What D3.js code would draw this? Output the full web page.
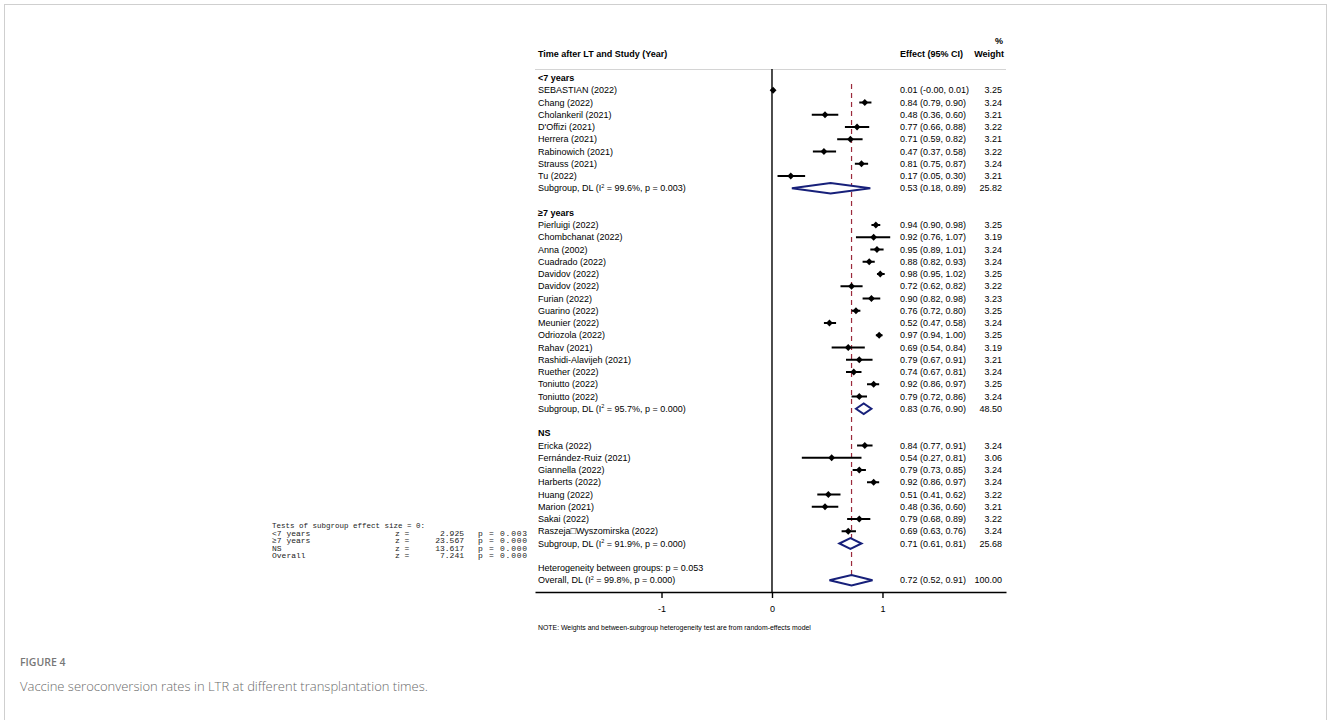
<!DOCTYPE html>
<html><head><meta charset="utf-8">
<script src="https://cdn.jsdelivr.net/npm/d3@7"></script>
<style>
html,body{margin:0;padding:0;background:#fff;}
svg{display:block;}
</style>
</head><body>
<svg id="chart" width="1328" height="720"></svg>
<script>
// ---------- DATA ----------
const groupNames = ["<7 years", "\u22657 years", "NS"];
const studies1 = ["SEBASTIAN (2022)","Chang (2022)","Cholankeril (2021)","D'Offizi (2021)","Herrera (2021)","Rabinowich (2021)","Strauss (2021)","Tu (2022)"];
const est1 = [0.01,0.84,0.48,0.77,0.71,0.47,0.81,0.17];
const lo1  = [-0.00,0.79,0.36,0.66,0.59,0.37,0.75,0.05];
const hi1  = [0.01,0.90,0.60,0.88,0.82,0.58,0.87,0.30];
const wt1  = ["3.25","3.24","3.21","3.22","3.21","3.22","3.24","3.21"];

const studies2 = ["Pierluigi (2022)","Chombchanat (2022)","Anna (2002)","Cuadrado (2022)","Davidov (2022)","Davidov (2022)","Furian (2022)","Guarino (2022)","Meunier (2022)","Odriozola (2022)","Rahav (2021)","Rashidi-Alavijeh (2021)","Ruether (2022)","Toniutto (2022)","Toniutto (2022)"];
const est2 = [0.94,0.92,0.95,0.88,0.98,0.72,0.90,0.76,0.52,0.97,0.69,0.79,0.74,0.92,0.79];
const lo2  = [0.90,0.76,0.89,0.82,0.95,0.62,0.82,0.72,0.47,0.94,0.54,0.67,0.67,0.86,0.72];
const hi2  = [0.98,1.07,1.01,0.93,1.02,0.82,0.98,0.80,0.58,1.00,0.84,0.91,0.81,0.97,0.86];
const wt2  = ["3.25","3.19","3.24","3.24","3.25","3.22","3.23","3.25","3.24","3.25","3.19","3.21","3.24","3.25","3.24"];

const studies3 = ["Ericka (2022)","Fern\u00e1ndez-Ruiz (2021)","Giannella (2022)","Harberts (2022)","Huang (2022)","Marion (2021)","Sakai (2022)","Raszeja\u25a1Wyszomirska (2022)"];
const est3 = [0.84,0.54,0.79,0.92,0.51,0.48,0.79,0.69];
const lo3  = [0.77,0.27,0.73,0.86,0.41,0.36,0.68,0.63];
const hi3  = [0.91,0.81,0.85,0.97,0.62,0.60,0.89,0.76];
const wt3  = ["3.24","3.06","3.24","3.24","3.22","3.21","3.22","3.24"];

const subEst = [0.53,0.83,0.71];
const subLo  = [0.18,0.76,0.61];
const subHi  = [0.89,0.90,0.81];
const subWt  = ["25.82","48.50","25.68"];
const subI2  = ["99.6%","95.7%","91.9%"];
const subP   = ["0.003","0.000","0.000"];

const overallEst = 0.72, overallLo = 0.52, overallHi = 0.91;
const overallWt = "100.00", overallI2 = "99.8%", overallP = "0.000";
const betweenP = "0.053";

const xTicks = [-1, 0, 1];

const testLabels = ["<7 years", "\u22657 years", "NS", "Overall"];
const testZ = ["2.925", "23.567", "13.617", "7.241"];
const testP = ["0.003", "0.000", "0.000", "0.000"];

// ---------- LAYOUT ----------
const svg = d3.select("#chart");
const FONT = "'Liberation Sans', Arial, sans-serif";
const x = d3.scaleLinear().domain([-2.145, 2.118]).range([535, 1006]);
const row0 = 78, rowH = 12.25;
const yRow = i => row0 + rowH * i;
const axisY = 592;
const labelX = 538, effX = 900, wtX = 1002;
const navy = "#17207a", red = "#9b2a3c";

// border
svg.append("rect").attr("x", 4.5).attr("y", 4.5).attr("width", 1322).attr("height", 760)
  .attr("fill", "none").attr("stroke", "#cfcfcf").attr("stroke-width", 1);

// build rows
const rows = [];
let r = 0;
const groups = [
  {studies: studies1, est: est1, lo: lo1, hi: hi1, wt: wt1},
  {studies: studies2, est: est2, lo: lo2, hi: hi2, wt: wt2},
  {studies: studies3, est: est3, lo: lo3, hi: hi3, wt: wt3}
];
groups.forEach((g, gi) => {
  rows.push({type: "header", label: groupNames[gi], i: r++});
  g.studies.forEach((s, k) => rows.push({type: "study", label: s, est: g.est[k], lo: g.lo[k], hi: g.hi[k], wt: g.wt[k], i: r++}));
  rows.push({type: "sub", est: subEst[gi], lo: subLo[gi], hi: subHi[gi], wt: subWt[gi], i2: subI2[gi], p: subP[gi], i: r++});
  r++; // blank
});
rows.push({type: "between", i: r++});
rows.push({type: "overall", est: overallEst, lo: overallLo, hi: overallHi, wt: overallWt, i2: overallI2, p: overallP, i: r++});

const fmt = d3.format(".2f");
const fmtCI = (e, l, h) => `${fmt(e)} (${Object.is(l, -0) ? "-0.00" : fmt(l)}, ${fmt(h)})`;

// header
const hdr = svg.append("g").attr("font-family", FONT).attr("font-size", 9).attr("fill", "#000");
hdr.append("text").attr("x", labelX).attr("y", 57).attr("font-weight", "bold").text("Time after LT and Study (Year)");
hdr.append("text").attr("x", effX).attr("y", 57).attr("font-weight", "bold").text("Effect (95% CI)");
hdr.append("text").attr("x", 1004).attr("y", 57).attr("text-anchor", "end").attr("font-weight", "bold").text("Weight");
hdr.append("text").attr("x", 1003).attr("y", 44).attr("text-anchor", "end").attr("font-weight", "bold").text("%");
svg.append("line").attr("x1", 535).attr("x2", 1006).attr("y1", 69.5).attr("y2", 69.5)
  .attr("stroke", "#d4d4d4").attr("stroke-width", 1);

// null line
svg.append("line").attr("x1", x(0)).attr("x2", x(0)).attr("y1", 69).attr("y2", axisY)
  .attr("stroke", "#000").attr("stroke-width", 1.4);
// overall dashed line
svg.append("line").attr("x1", x(overallEst)).attr("x2", x(overallEst)).attr("y1", 84).attr("y2", 588)
  .attr("stroke", red).attr("stroke-width", 1.2).attr("stroke-dasharray", "5,4");

// axis
const axis = d3.axisBottom(x).tickValues(xTicks).tickSize(6).tickSizeOuter(0).tickFormat(d3.format("d"));
const ag = svg.append("g").attr("transform", `translate(0,${axisY})`).call(axis);
ag.select(".domain").attr("stroke", "#000").attr("stroke-width", 1.4);
ag.selectAll(".tick line").attr("stroke", "#000").attr("stroke-width", 1.4);
ag.selectAll(".tick text").attr("font-family", FONT).attr("font-size", 9).attr("fill", "#000").attr("dy", "1.25em")
  .text(d => d < 0 ? "-" + Math.abs(d) : d);

// rows text + marks
const body = svg.append("g").attr("font-family", FONT).attr("font-size", 9).attr("fill", "#000");
function addI2(t, pre, i2, p) {
  t.append("tspan").text(pre + " (I");
  t.append("tspan").attr("font-size", 5.5).attr("dy", -3.5).text("2");
  t.append("tspan").attr("dy", 3.5).text(` = ${i2}, p = ${p})`);
}
rows.forEach(d => {
  const y = yRow(d.i);
  const ty = y + 3.2;
  if (d.type === "header") {
    body.append("text").attr("x", labelX).attr("y", ty).attr("font-weight", "bold").text(d.label);
  } else if (d.type === "study") {
    body.append("text").attr("x", labelX).attr("y", ty).text(d.label);
    body.append("text").attr("x", effX).attr("y", ty).text(fmtCI(d.est, d.lo, d.hi));
    body.append("text").attr("x", wtX).attr("y", ty).attr("text-anchor", "end").text(d.wt);
    svg.append("line").attr("x1", x(d.lo)).attr("x2", x(d.hi)).attr("y1", y).attr("y2", y)
      .attr("stroke", "#000").attr("stroke-width", 2);
    const cx = x(d.est), s = 3.4;
    svg.append("path").attr("d", `M${cx - s},${y}L${cx},${y - s}L${cx + s},${y}L${cx},${y + s}Z`).attr("fill", "#000");
  } else if (d.type === "sub" || d.type === "overall") {
    const t = body.append("text").attr("x", labelX).attr("y", ty);
    addI2(t, d.type === "sub" ? "Subgroup, DL" : "Overall, DL", d.i2, d.p);
    body.append("text").attr("x", effX).attr("y", ty).text(fmtCI(d.est, d.lo, d.hi));
    body.append("text").attr("x", wtX).attr("y", ty).attr("text-anchor", "end").text(d.wt);
    const h = 5.3;
    svg.append("path")
      .attr("d", `M${x(d.lo)},${y}L${x(d.est)},${y - h}L${x(d.hi)},${y}L${x(d.est)},${y + h}Z`)
      .attr("fill", "#fff").attr("stroke", navy).attr("stroke-width", 2).attr("stroke-linejoin", "miter");
  } else if (d.type === "between") {
    body.append("text").attr("x", labelX).attr("y", ty).text(`Heterogeneity between groups: p = ${betweenP}`);
  }
});

// note
svg.append("text").attr("x", labelX).attr("y", 629.5).attr("font-family", FONT).attr("font-size", 6.9)
  .attr("fill", "#000").text("NOTE: Weights and between-subgroup heterogeneity test are from random-effects model");

// tests block
const tg = svg.append("g").attr("font-family", "'Liberation Mono', 'DejaVu Sans Mono', monospace")
  .attr("font-size", 8).attr("fill", "#222");
tg.append("text").attr("x", 272).attr("y", 528).attr("textLength", 153).attr("lengthAdjust", "spacingAndGlyphs")
  .text("Tests of subgroup effect size = 0:");
testLabels.forEach((l, k) => {
  const yy = 535.5 + k * 7.5;
  tg.append("text").attr("x", 272).attr("y", yy).text(l);
  tg.append("text").attr("x", 395).attr("y", yy).text("z =");
  tg.append("text").attr("x", 464).attr("y", yy).attr("text-anchor", "end").text(testZ[k]);
  tg.append("text").attr("x", 478).attr("y", yy).attr("textLength", 49).attr("lengthAdjust", "spacing").text("p = " + testP[k]);
});

// caption
svg.append("text").attr("x", 20).attr("y", 666).attr("font-family", "'Open Sans', sans-serif")
  .attr("font-size", 10.5).attr("font-weight", 600).attr("fill", "#777").text("FIGURE 4");
svg.append("text").attr("x", 20).attr("y", 691).attr("font-family", "'Open Sans', sans-serif")
  .attr("font-size", 13).attr("font-weight", 300).attr("fill", "#6a6a6a").text("Vaccine seroconversion rates in LTR at different transplantation times.");
</script>
</body></html>
